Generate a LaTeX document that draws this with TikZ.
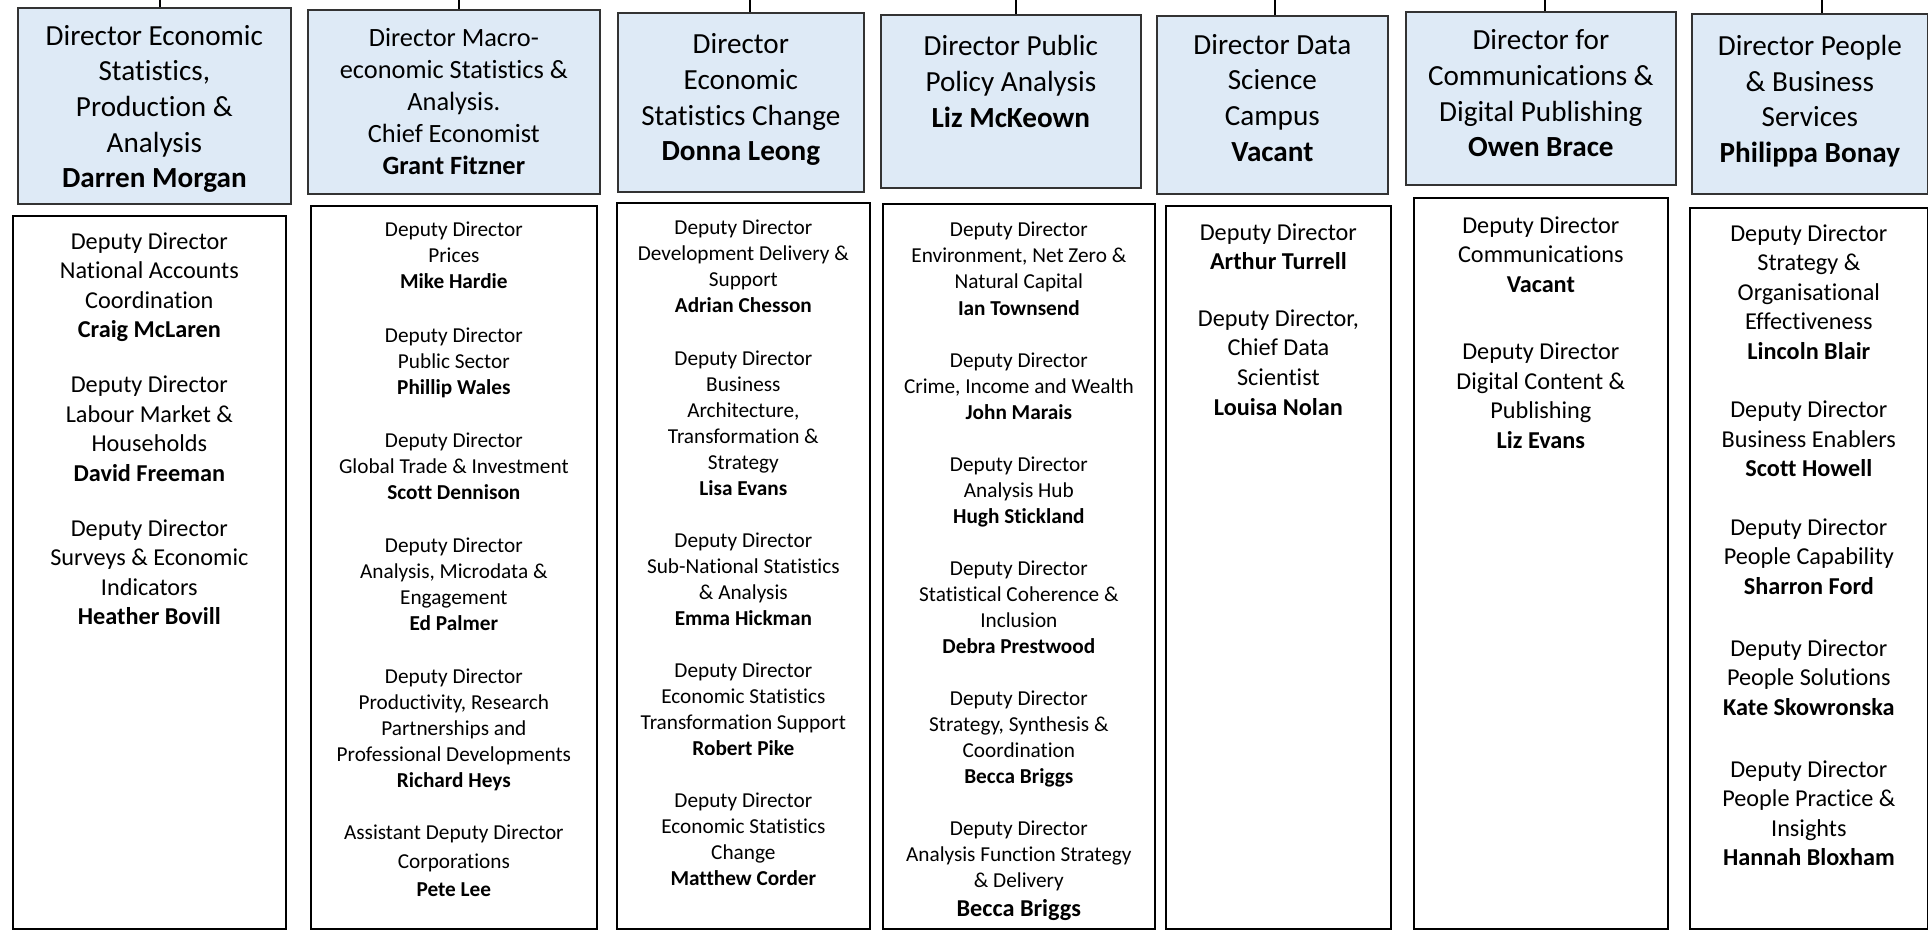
\documentclass[tikz,border=0pt]{standalone}
\usepackage{fontspec}
\setmainfont{Carlito}[Ligatures={NoCommon,NoRequired,NoContextual}]
\usetikzlibrary{positioning}

\definecolor{dirfill}{HTML}{DEEAF6}

\tikzset{
  dirbox/.style={draw=black!80, fill=dirfill, line width=1pt, anchor=north west,
    align=center, inner sep=0pt, font=\fontsize{16.6}{20.3}\selectfont},
  depbox/.style={draw=black, line width=1pt, anchor=north west, inner sep=0pt},
  deptext/.style={align=center, inner sep=0pt, font=\fontsize{12.1}{14.8}\selectfont},
  bigtext/.style={font=\fontsize{13.8}{16.8}\selectfont},
  link/.style={line width=1pt}
}

\begin{document}
\begin{tikzpicture}[x=0.02cm, y=-0.02cm]
\useasboundingbox (0,0) rectangle (1928,931);

% directors
\node[dirbox, minimum width=5.46cm, minimum height=3.92cm] (econ) at (17,7)
  {\rule{0pt}{15pt}Director Economic\\Statistics,\\Production \&\\Analysis\\\textbf{Darren Morgan}};
\node[dirbox, minimum width=5.84cm, minimum height=3.68cm, font=\fontsize{15}{18.2}\selectfont] (macro) at (307,9)
  {Director Macro-\\economic Statistics \&\\Analysis.\\Chief Economist\\\textbf{Grant Fitzner}};
\node[dirbox, minimum width=4.92cm, minimum height=3.58cm] (change) at (617,12)
  {Director\\Economic\\Statistics Change\\\textbf{Donna Leong}\\[-14.7pt]\mbox{}};
\node[dirbox, minimum width=5.2cm, minimum height=3.46cm] (policy) at (880,14)
  {Director Public\\Policy Analysis\\\textbf{Liz McKeown}\\[2.5pt]\mbox{}};
\node[dirbox, minimum width=4.62cm, minimum height=3.56cm] (campus) at (1156,15)
  {Director Data\\Science\\Campus\\\textbf{Vacant}\\[-11.9pt]\mbox{}};
\node[dirbox, minimum width=5.4cm, minimum height=3.46cm] (comms) at (1405,11)
  {Director for\\Communications \&\\Digital Publishing\\\textbf{Owen Brace}\\[-14.7pt]\mbox{}};
\node[dirbox, minimum width=4.72cm, minimum height=3.6cm] (people) at (1691,13)
  {Director People\\\& Business\\Services\\\textbf{Philippa Bonay}\\[-14.7pt]\mbox{}};

% lines up to the top
\foreach \x/\n in {160/econ, 459/macro, 750/change, 1016/policy, 1275/campus, 1545/comms, 1822/people} {
  \coordinate (\n top) at (\x,0);
  \draw[link] (\n top) -- (\n top |- \n.north);
}

% deputy boxes
\node[depbox, minimum width=5.46cm, minimum height=14.26cm] (econdep) at (12,215) {};
\node[depbox, minimum width=5.72cm, minimum height=14.46cm] (macrodep) at (310,205) {};
\node[depbox, minimum width=5.06cm, minimum height=14.52cm] (changedep) at (616,202) {};
\node[depbox, minimum width=5.44cm, minimum height=14.5cm] (policydep) at (882,203) {};
\node[depbox, minimum width=4.5cm, minimum height=14.46cm] (campusdep) at (1165,205) {};
\node[depbox, minimum width=5.08cm, minimum height=14.62cm] (commsdep) at (1413,197) {};
\node[depbox, minimum width=4.76cm, minimum height=14.42cm] (peopledep) at (1689,207) {};

\node[deptext, bigtext, below=0.34cm of econdep.north] (econlist)
  {Deputy Director\\National Accounts\\Coordination\\\textbf{Craig McLaren}\\[14.5pt]
   Deputy Director\\Labour Market \&\\Households\\\textbf{David Freeman}\\[14.5pt]
   Deputy Director\\Surveys \& Economic\\Indicators\\\textbf{Heather Bovill}};

\node[deptext, below=0.34cm of macrodep.north] (macrolist)
  {Deputy Director\\Prices\\\textbf{Mike Hardie}\\[15.4pt]
   Deputy Director\\Public Sector\\\textbf{Phillip Wales}\\[15.4pt]
   Deputy Director\\Global Trade \& Investment\\\textbf{Scott Dennison}\\[15.4pt]
   Deputy Director\\Analysis, Microdata \&\\Engagement\\\textbf{Ed Palmer}\\[15.4pt]
   Deputy Director\\Productivity, Research\\Partnerships and\\Professional Developments\\\textbf{Richard Heys}\\[14.8pt]
   Assistant Deputy Director\\[1.6pt]Corporations\\[1.6pt]\textbf{Pete Lee}};

\node[deptext, below=0.36cm of changedep.north] (changelist)
  {Deputy Director\\Development Delivery \&\\Support\\\textbf{Adrian Chesson}\\[14.8pt]
   Deputy Director\\Business\\Architecture,\\Transformation \&\\Strategy\\\textbf{Lisa Evans}\\[14.8pt]
   Deputy Director\\Sub-National Statistics\\\& Analysis\\\textbf{Emma Hickman}\\[14.8pt]
   Deputy Director\\Economic Statistics\\Transformation Support\\\textbf{Robert Pike}\\[14.8pt]
   Deputy Director\\Economic Statistics\\Change\\\textbf{Matthew Corder}};

\node[deptext, below=0.38cm of policydep.north] (policylist)
  {Deputy Director\\Environment, Net Zero \&\\Natural Capital\\\textbf{Ian Townsend}\\[14.8pt]
   Deputy Director\\Crime, Income and Wealth\\\textbf{John Marais}\\[14.8pt]
   Deputy Director\\Analysis Hub\\\textbf{Hugh Stickland}\\[14.8pt]
   Deputy Director\\Statistical Coherence \&\\Inclusion\\\textbf{Debra Prestwood}\\[14.8pt]
   Deputy Director\\Strategy, Synthesis \&\\Coordination\\\textbf{Becca Briggs}\\[14.8pt]
   Deputy Director\\Analysis Function Strategy\\\& Delivery\\[2pt]{\fontsize{13.8}{16}\selectfont\textbf{Becca Briggs}}};

\node[deptext, bigtext, below=0.36cm of campusdep.north] (campuslist)
  {Deputy Director\\\textbf{Arthur Turrell}\\[15.6pt]
   Deputy Director,\\Chief Data\\Scientist\\\textbf{Louisa Nolan}};

\node[deptext, bigtext, below=0.38cm of commsdep.north] (commslist)
  {Deputy Director\\Communications\\\textbf{Vacant}\\[21.6pt]
   Deputy Director\\Digital Content \&\\Publishing\\\textbf{Liz Evans}};

\node[deptext, bigtext, below=0.34cm of peopledep.north] (peoplelist)
  {Deputy Director\\Strategy \&\\Organisational\\Effectiveness\\\textbf{Lincoln Blair}\\[16.5pt]
   Deputy Director\\Business Enablers\\\textbf{Scott Howell}\\[16.5pt]
   Deputy Director\\People Capability\\\textbf{Sharron Ford}\\[18.5pt]
   Deputy Director\\People Solutions\\\textbf{Kate Skowronska}\\[18.5pt]
   Deputy Director\\People Practice \&\\Insights\\\textbf{Hannah Bloxham}};

\end{tikzpicture}
\end{document}
